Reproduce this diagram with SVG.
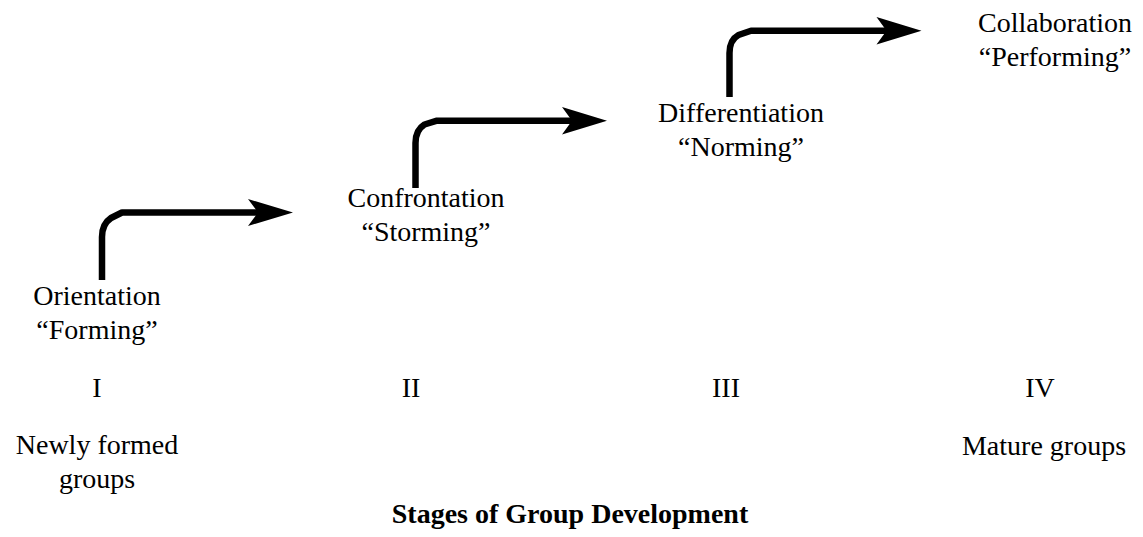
<svg xmlns="http://www.w3.org/2000/svg" width="1143" height="537" viewBox="0 0 1143 537">
<style>
  .t { font-family: "Liberation Serif", "Times New Roman", serif; font-size: 28px; fill: #000; text-anchor: middle; }
  .b { font-weight: bold; }
  .ln { fill: none; stroke: #000; stroke-width: 6.5; stroke-linejoin: round; stroke-linecap: butt; }
  .hd { fill: #000; stroke: none; }
</style>
<rect width="1143" height="537" fill="#fff"/>
<g id="connectors">
  <path class="ln" d="M102,280 L102,237 Q102,224 111,218 L122,212.5 L259,212.5"/>
  <polygon class="hd" points="293,212.5 248,199 258,212.5 248,226"/>
  <path class="ln" d="M415.5,188 L415.5,143 Q415.5,130 424.5,124.5 L437,120.7 L573,120.7"/>
  <polygon class="hd" points="607,120.7 562,107 572,120.7 562,134.5"/>
  <path class="ln" d="M729.5,97 L729.5,53 Q729.5,40 738.5,35 L751,30.7 L887,30.7"/>
  <polygon class="hd" points="921.5,30.7 876.5,17 886.5,30.7 876.5,44.5"/>
</g>
<g id="stage1">
  <text class="t" x="97" y="305">Orientation</text>
  <text class="t" x="97" y="339">“Forming”</text>
</g>
<g id="stage2">
  <text class="t" x="426" y="207">Confrontation</text>
  <text class="t" x="426" y="241">“Storming”</text>
</g>
<g id="stage3">
  <text class="t" x="741" y="122">Differentiation</text>
  <text class="t" x="741" y="156">“Norming”</text>
</g>
<g id="stage4">
  <text class="t" x="1055" y="32">Collaboration</text>
  <text class="t" x="1055" y="66">“Performing”</text>
</g>
<g id="numerals">
  <text class="t" x="97" y="397">I</text>
  <text class="t" x="411" y="397">II</text>
  <text class="t" x="726" y="397">III</text>
  <text class="t" x="1040" y="397">IV</text>
</g>
<g id="endpoints">
  <text class="t" x="97" y="454">Newly formed</text>
  <text class="t" x="97" y="488">groups</text>
  <text class="t" x="1044" y="455">Mature groups</text>
</g>
<g id="title">
  <text class="t b" x="570" y="523">Stages of Group Development</text>
</g>
</svg>
